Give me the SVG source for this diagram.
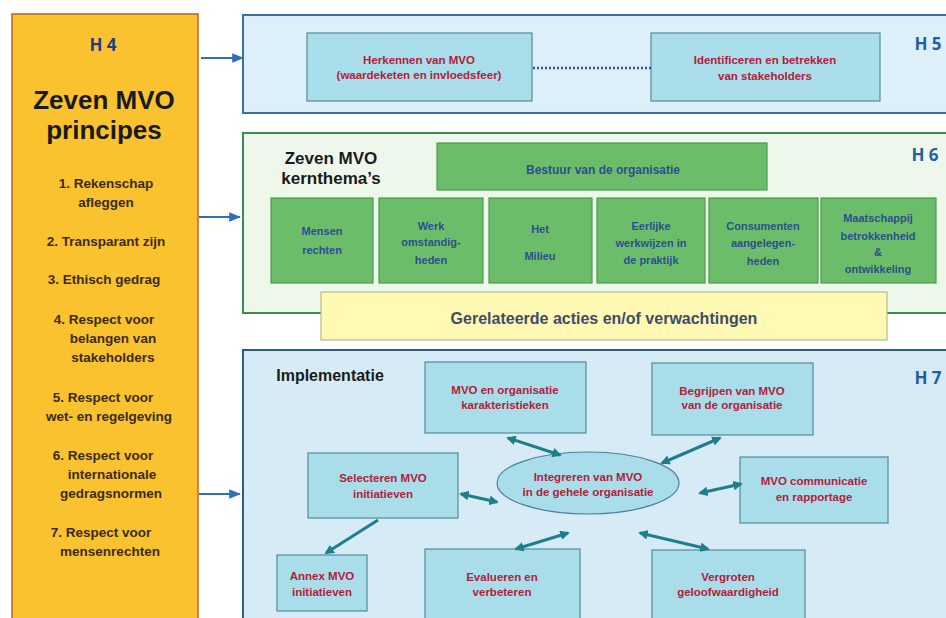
<svg xmlns="http://www.w3.org/2000/svg" width="946" height="618" viewBox="0 0 946 618">
<defs>
<style>
text{font-family:"Liberation Sans",Arial,sans-serif;text-anchor:middle}
.hl{font-weight:bold;font-size:17px;fill:#1F5FA8;font-family:"Open Sans","Liberation Sans",sans-serif}
.prin{font-weight:bold;font-size:13.5px;fill:#3a2c12}
.red{font-weight:bold;font-size:11.5px;fill:#B3203A}
.grn{font-weight:bold;font-size:11px;fill:#2D4E8F}
.cyan{fill:#A9DDEA;stroke:#4E8E9C;stroke-width:1.2}
.gbox{fill:#6CBD6A;stroke:#4C9A52;stroke-width:1.2}
.arrow{stroke:#2F6FB5;stroke-width:2;fill:none}
.conn{stroke:#1E7F8C;stroke-width:3;fill:none}
</style>
<marker id="ab" viewBox="0 0 10 10" refX="9" refY="5" markerWidth="6" markerHeight="6" orient="auto"><path d="M0,1 L10,5 L0,9 z" fill="#2F6FB5"/></marker>
<marker id="at" viewBox="0 0 10 10" refX="8" refY="5" markerWidth="3.2" markerHeight="3.2" orient="auto-start-reverse"><path d="M0,0 L10,5 L0,10 z" fill="#1E7F8C"/></marker>
</defs>
<rect width="946" height="618" fill="#fff"/>

<g id="h4">
<rect x="12" y="14" width="186" height="610" fill="#F9C22E" stroke="#B8652A" stroke-width="1.5"/>
<text x="103" y="51" style="font-weight:bold;font-size:17px;fill:#1F3C88;font-family:'Open Sans','Liberation Sans',sans-serif">H 4</text>
<text x="104" y="109" style="font-weight:bold;font-size:26px;fill:#1a1a1a">Zeven MVO</text>
<text x="104" y="139" style="font-weight:bold;font-size:26px;fill:#1a1a1a">principes</text>
<text class="prin" x="106" y="188">1. Rekenschap</text>
<text class="prin" x="106" y="207">afleggen</text>
<text class="prin" x="106" y="246">2. Transparant zijn</text>
<text class="prin" x="104" y="284">3. Ethisch gedrag</text>
<text class="prin" x="104" y="324">4. Respect voor</text>
<text class="prin" x="113" y="343">belangen van</text>
<text class="prin" x="113" y="362">stakeholders</text>
<text class="prin" x="103" y="402">5. Respect voor</text>
<text class="prin" x="109" y="421">wet- en regelgeving</text>
<text class="prin" x="103" y="460">6. Respect voor</text>
<text class="prin" x="112" y="479">internationale</text>
<text class="prin" x="111" y="498">gedragsnormen</text>
<text class="prin" x="101" y="537">7. Respect voor</text>
<text class="prin" x="110" y="556">mensenrechten</text>
</g>

<g id="h5">
<rect x="243" y="15" width="710" height="98" fill="#DDEFF8" stroke="#3A6FA8" stroke-width="2"/>
<text class="hl" x="928" y="50">H 5</text>
<g id="herkennen">
<rect class="cyan" x="307" y="33" width="225" height="68"/>
<text class="red" x="419" y="64">Herkennen van MVO</text>
<text class="red" x="419" y="79">(waardeketen en invloedsfeer)</text>
</g>
<g id="identificeren">
<rect class="cyan" x="651" y="33" width="229" height="68"/>
<text class="red" x="765" y="64">Identificeren en betrekken</text>
<text class="red" x="765" y="80">van stakeholders</text>
</g>
</g>

<g id="h6">
<rect x="243" y="133" width="710" height="180" fill="#EEF8EA" stroke="#3D8C4F" stroke-width="2"/>
<text class="hl" x="925" y="161">H 6</text>
<text x="331" y="164" style="font-weight:bold;font-size:17px;fill:#1a1a1a">Zeven MVO</text>
<text x="331" y="184" style="font-weight:bold;font-size:17px;fill:#1a1a1a">kernthema’s</text>
<g id="bestuur"><rect class="gbox" x="437" y="143" width="330" height="47"/>
<text class="grn" x="603" y="174" style="font-size:12px">Bestuur van de organisatie</text></g>
<g id="mensen"><rect class="gbox" x="271" y="198" width="102" height="85"/>
<text class="grn" x="322" y="235">Mensen</text><text class="grn" x="322" y="254">rechten</text></g>
<g id="werk"><rect class="gbox" x="379" y="198" width="104" height="85"/>
<text class="grn" x="431" y="230">Werk</text><text class="grn" x="431" y="246">omstandig-</text><text class="grn" x="431" y="264">heden</text></g>
<g id="milieu"><rect class="gbox" x="489" y="198" width="103" height="85"/>
<text class="grn" x="540" y="233">Het</text><text class="grn" x="540" y="260">Milieu</text></g>
<g id="eerlijke"><rect class="gbox" x="597" y="198" width="108" height="85"/>
<text class="grn" x="651" y="230">Eerlijke</text><text class="grn" x="651" y="247">werkwijzen in</text><text class="grn" x="651" y="264">de praktijk</text></g>
<g id="consumenten"><rect class="gbox" x="709" y="198" width="109" height="85"/>
<text class="grn" x="763" y="230">Consumenten</text><text class="grn" x="763" y="247">aangelegen-</text><text class="grn" x="763" y="265">heden</text></g>
<g id="maatschappij"><rect class="gbox" x="821" y="198" width="115" height="85"/>
<text class="grn" x="878" y="222">Maatschappij</text><text class="grn" x="878" y="240">betrokkenheid</text><text class="grn" x="878" y="256">&amp;</text><text class="grn" x="878" y="273">ontwikkeling</text></g>
<g id="gerelateerde"><rect x="321" y="292" width="566" height="48" fill="#FFF9B3" stroke="#B9B98A" stroke-width="1.2"/>
<text x="604" y="324" style="font-weight:bold;font-size:16px;fill:#3E4B6B">Gerelateerde acties en/of verwachtingen</text></g>
</g>

<g id="h7">
<rect x="243" y="350" width="710" height="280" fill="#D6EBF6" stroke="#2E5C8A" stroke-width="2"/>
<text class="hl" x="928" y="384">H 7</text>
<text x="330" y="381" style="font-weight:bold;font-size:16px;fill:#1a1a1a">Implementatie</text>
<g id="karakteristieken"><rect class="cyan" x="425" y="362" width="161" height="71"/>
<text class="red" x="505" y="394">MVO en organisatie</text><text class="red" x="505" y="409">karakteristieken</text></g>
<g id="begrijpen"><rect class="cyan" x="652" y="363" width="161" height="72"/>
<text class="red" x="732" y="395">Begrijpen van MVO</text><text class="red" x="732" y="409">van de organisatie</text></g>
<g id="selecteren"><rect class="cyan" x="308" y="453" width="150" height="65"/>
<text class="red" x="383" y="482">Selecteren MVO</text><text class="red" x="383" y="498">initiatieven</text></g>
<g id="integreren"><ellipse cx="588" cy="483" rx="91" ry="31" fill="#A9DDEA" stroke="#4E7EA0" stroke-width="1.2"/>
<text class="red" x="588" y="481">Integreren van MVO</text><text class="red" x="588" y="496">in de gehele organisatie</text></g>
<g id="communicatie"><rect class="cyan" x="740" y="457" width="148" height="66"/>
<text class="red" x="814" y="485">MVO communicatie</text><text class="red" x="814" y="501">en rapportage</text></g>
<g id="annex"><rect class="cyan" x="277" y="555" width="90" height="56"/>
<text class="red" x="322" y="580">Annex MVO</text><text class="red" x="322" y="596">initiatieven</text></g>
<g id="evalueren"><rect class="cyan" x="425" y="549" width="155" height="72"/>
<text class="red" x="502" y="581">Evalueren en</text><text class="red" x="502" y="596">verbeteren</text></g>
<g id="vergroten"><rect class="cyan" x="652" y="550" width="153" height="72"/>
<text class="red" x="728" y="581">Vergroten</text><text class="red" x="728" y="596">geloofwaardigheid</text></g>
</g>

<g id="connectors">
<line class="arrow" x1="201" y1="58" x2="243" y2="58" marker-end="url(#ab)"/>
<line class="arrow" x1="199" y1="217" x2="240" y2="217" marker-end="url(#ab)"/>
<line class="arrow" x1="199" y1="494" x2="240" y2="494" marker-end="url(#ab)"/>
<line x1="533" y1="68" x2="651" y2="68" stroke="#2F4FB5" stroke-width="2.5" stroke-dasharray="2 2"/>
<line class="conn" x1="508" y1="438" x2="560" y2="455" marker-start="url(#at)" marker-end="url(#at)"/>
<line class="conn" x1="461" y1="494" x2="497" y2="502" marker-start="url(#at)" marker-end="url(#at)"/>
<line class="conn" x1="378" y1="520" x2="326" y2="553" marker-end="url(#at)"/>
<line class="conn" x1="516" y1="549" x2="568" y2="533" marker-start="url(#at)" marker-end="url(#at)"/>
<line class="conn" x1="662" y1="463" x2="720" y2="438" marker-start="url(#at)" marker-end="url(#at)"/>
<line class="conn" x1="700" y1="493" x2="741" y2="484" marker-start="url(#at)" marker-end="url(#at)"/>
<line class="conn" x1="640" y1="533" x2="708" y2="549" marker-start="url(#at)" marker-end="url(#at)"/>
</g>
</svg>
